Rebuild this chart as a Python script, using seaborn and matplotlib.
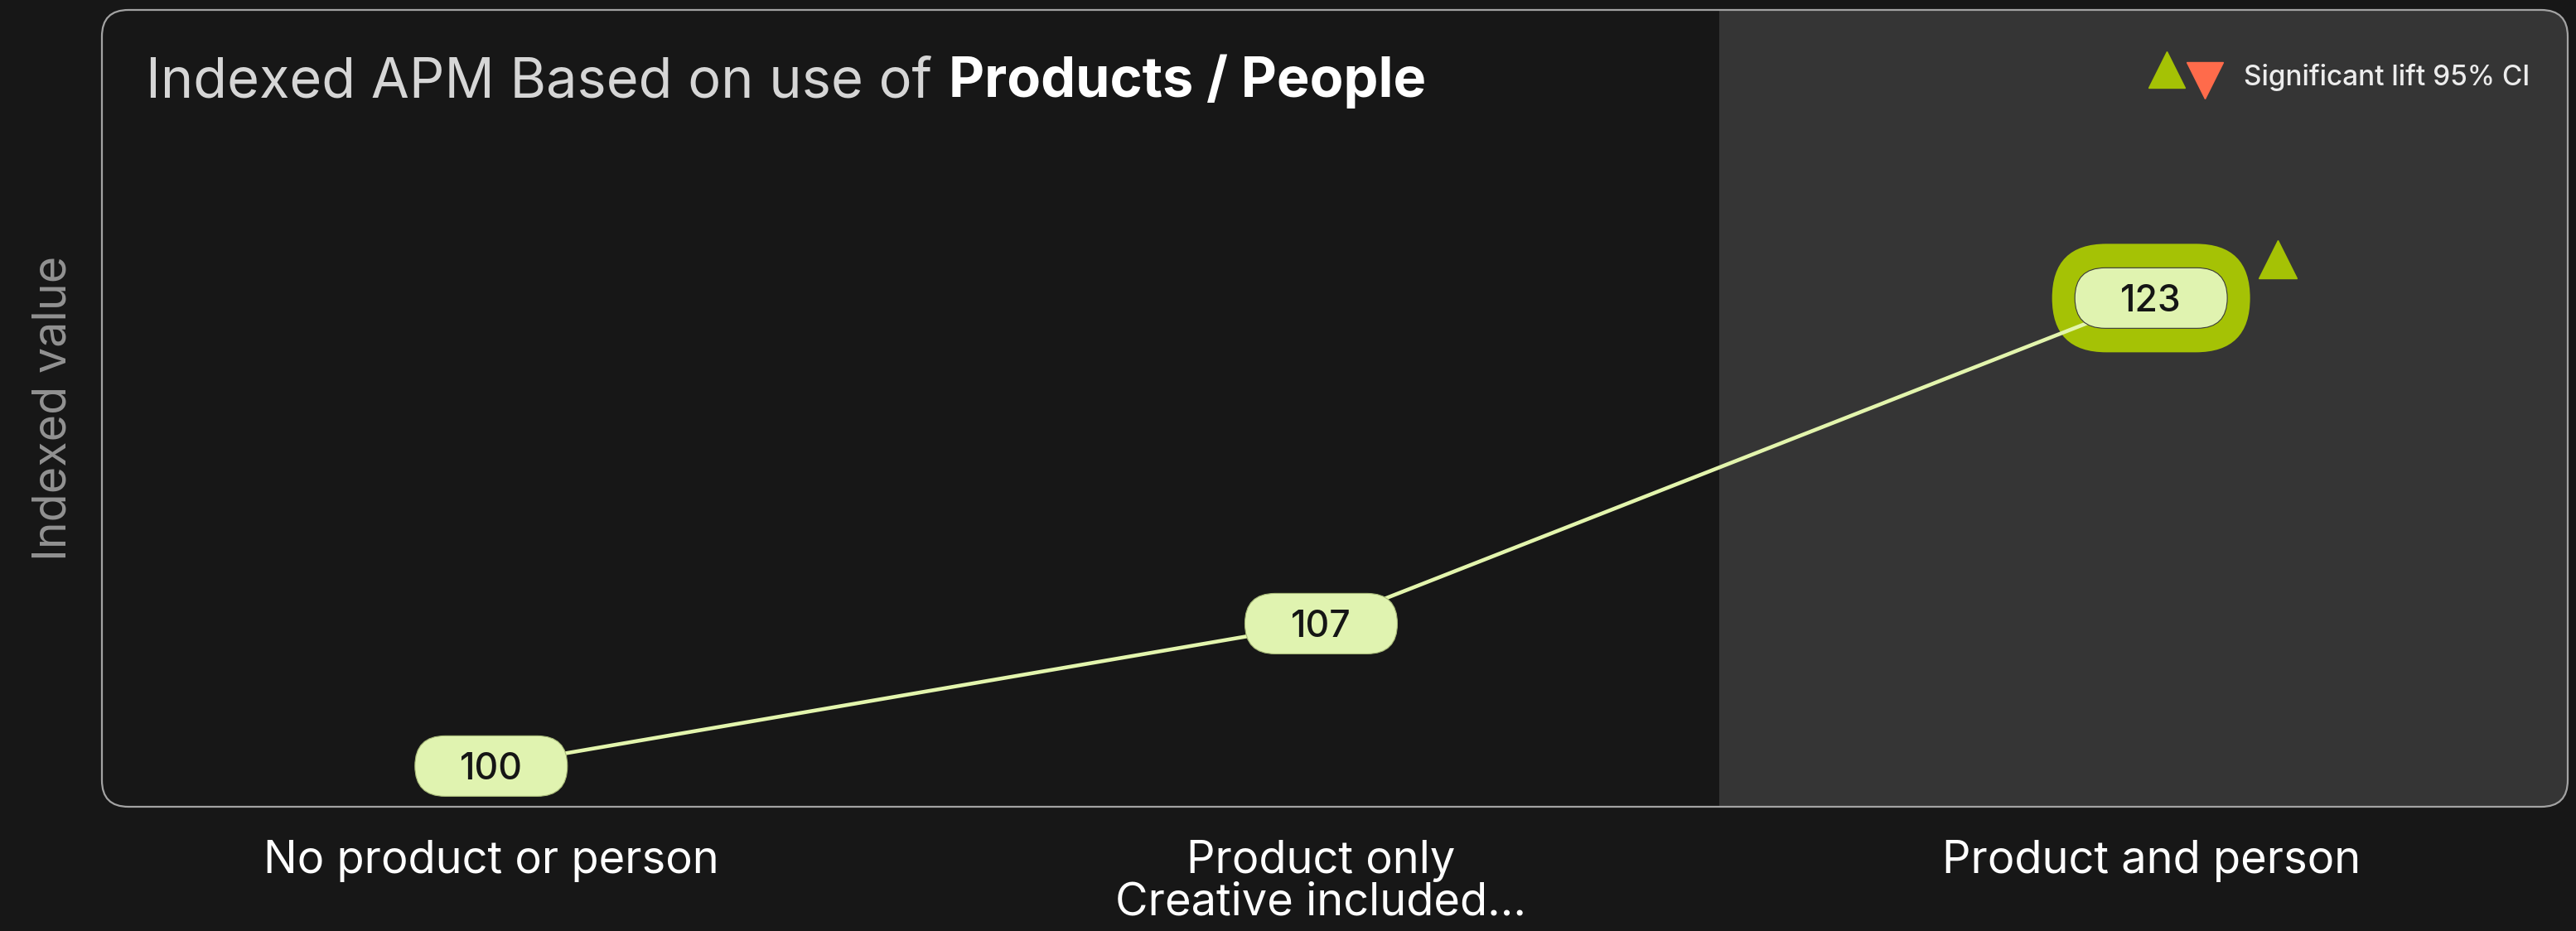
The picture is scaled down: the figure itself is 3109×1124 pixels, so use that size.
import matplotlib
matplotlib.use("Agg")
import matplotlib.pyplot as plt
import matplotlib.transforms as mtransforms
from matplotlib.patches import FancyBboxPatch
import pandas as pd
import seaborn as sns

# ---- data -------------------------------------------------------------
categories = ["No product or person", "Product only\nCreative included...", "Product and person"]
index_values = [100, 107, 123]
significance = [None, None, "up"]          # significant lift at 95% CI

title_plain = "Indexed APM Based on use of"
title_bold = "Products / People"
y_label = "Indexed value"
legend_label = "Significant lift 95% CI"

# ---- style ------------------------------------------------------------
BG = "#171717"
BAND = "#353535"
FRAME = "#a3a3a3"
LINE = "#e3f5ad"
PILL = "#e0f3b0"
LIME = "#a5c205"
CORAL = "#ff6b4b"
TEXT_DARK = "#151515"

sns.set_theme(style="white")
plt.rcParams["font.family"] = ["Inter", "DejaVu Sans"]

W, H, DPI = 3109, 1124, 100
fig = plt.figure(figsize=(W / DPI, H / DPI), dpi=DPI, facecolor=BG)
ax = fig.add_axes([123 / W, 150 / H, 2976 / W, 962 / H])
ax.set_facecolor("none")
for sp in ax.spines.values():
    sp.set_visible(False)

df = pd.DataFrame({"pos": range(len(categories)), "category": categories, "value": index_values})

# rounded panel (fill + outline), in inches so the corners stay circular
panel_fill = FancyBboxPatch((1.23, 1.50), 29.76, 9.62, boxstyle="round,pad=0,rounding_size=0.32",
                            transform=fig.dpi_scale_trans, fc=BG, ec="none", zorder=0, clip_on=False)
ax.add_patch(panel_fill)
panel_edge = FancyBboxPatch((1.23, 1.50), 29.76, 9.62, boxstyle="round,pad=0,rounding_size=0.32",
                            transform=fig.dpi_scale_trans, fc="none", ec=FRAME, lw=1.6, zorder=10,
                            clip_on=False)
ax.add_patch(panel_edge)

# highlighted band behind the last category
band = ax.axvspan(len(categories) - 1.52, len(categories), color=BAND, lw=0, zorder=0.5)
band.set_clip_path(panel_fill)

ax.set_xlim(-0.469, 2.502)
ax.set_ylim(98.0, 137.16)

# the index line
sns.lineplot(data=df, x="pos", y="value", color=LINE, lw=3.3, ax=ax, zorder=3, sort=False)

# value pills
for pos, val, sig in zip(df["pos"], df["value"], significance):
    trans = fig.dpi_scale_trans + mtransforms.ScaledTranslation(pos, val, ax.transData)
    if sig is not None:
        ring = FancyBboxPatch((-1.195, -0.655), 2.39, 1.31, boxstyle="round,pad=0,rounding_size=0.655",
                              transform=trans, fc=LIME, ec="none", zorder=2.5, clip_on=False)
        ax.add_patch(ring)
        ax.plot([1.53], [0.465], marker="^" if sig == "up" else "v", ms=33, ls="none",
                color=LIME if sig == "up" else CORAL, transform=trans, clip_on=False, zorder=4)
    pill = FancyBboxPatch((-0.92, -0.365), 1.84, 0.73, boxstyle="round,pad=0,rounding_size=0.365",
                          transform=trans, fc=PILL,
                          ec="#3a3a3a" if sig is not None else "#a9bb7a", lw=0.8,
                          zorder=4, clip_on=False)
    ax.add_patch(pill)
    ax.text(0, -0.16, f"{val}", transform=trans, ha="center", va="baseline",
            fontsize=32, fontweight="medium", color=TEXT_DARK, zorder=5)

# axes labels / ticks
ax.set_xticks(df["pos"], categories, fontsize=39, color="white", linespacing=0.98)
ax.tick_params(axis="x", length=0, pad=29)
ax.set_yticks([])
ax.set_xlabel("")
ax.set_ylabel(y_label, fontsize=40, color="#929292")
ax.yaxis.set_label_coords(-0.0108, 0.5)

# title in two weights
t1 = fig.text(1.76, 10.07, title_plain, transform=fig.dpi_scale_trans, ha="left", va="baseline",
              fontsize=48, color="#d6d6d6")
ax.annotate(title_bold, xy=(1, 0), xycoords=t1, xytext=(14, 0), textcoords="offset points",
            ha="left", va="bottom", fontsize=48, fontweight="bold", color="white",
            annotation_clip=False)

# significance key
ax.plot([26.145], [10.40], marker="^", ms=32, ls="none", color=LIME,
        transform=fig.dpi_scale_trans, clip_on=False)
ax.plot([26.605], [10.27], marker="v", ms=32, ls="none", color=CORAL,
        transform=fig.dpi_scale_trans, clip_on=False)
fig.text(27.08, 10.21, legend_label, transform=fig.dpi_scale_trans, ha="left", va="baseline",
         fontsize=24, fontweight="medium", color="#ececec")

fig.savefig("out.png", dpi=DPI, facecolor=BG)
